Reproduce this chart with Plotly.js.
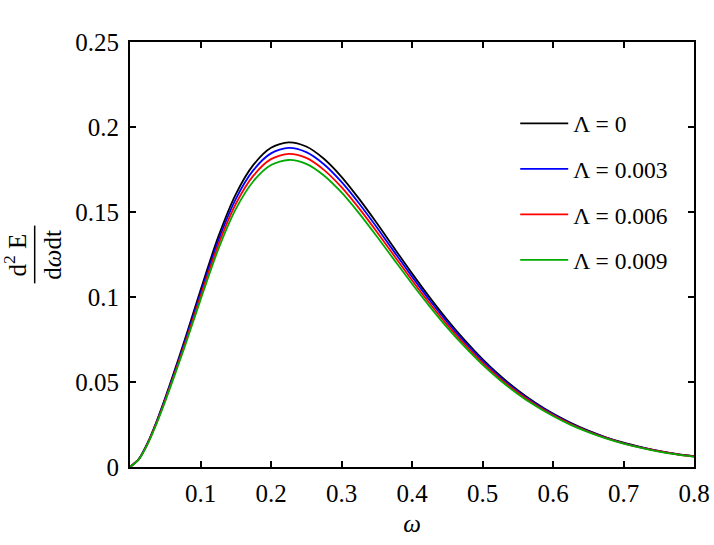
<!DOCTYPE html>
<html>
<head>
<meta charset="utf-8">
<script src="https://cdn.plot.ly/plotly-3.0.1.min.js"></script>
<style>
  body { margin: 0; background: #fff; }
  #plot { width: 714px; height: 545px; }
</style>
</head>
<body>
<div id="plot"></div>
<script>
// omega grid and spectra
const omega = [0, 0.0125, 0.025, 0.0375, 0.05, 0.0625, 0.075, 0.0875, 0.1, 0.125, 0.15, 0.175,
  0.2, 0.225, 0.25, 0.275, 0.3, 0.325, 0.35, 0.375, 0.4, 0.425, 0.45, 0.475, 0.5, 0.525, 0.55,
  0.575, 0.6, 0.625, 0.65, 0.675, 0.7, 0.725, 0.75, 0.775, 0.8];

const lambda0 = [0, 0.0047, 0.0142, 0.0266, 0.0407, 0.0558, 0.0714, 0.0876, 0.1040, 0.1352,
  0.1604, 0.1777, 0.1878, 0.1910, 0.1885, 0.1813, 0.1707, 0.1577, 0.1435, 0.1286, 0.1139,
  0.0998, 0.0866, 0.0745, 0.0635, 0.0537, 0.0452, 0.0378, 0.0314, 0.0260, 0.0214, 0.0175,
  0.0143, 0.0117, 0.0095, 0.0077, 0.0064];

const lambda003 = [0, 0.0046, 0.0140, 0.0262, 0.0401, 0.0549, 0.0703, 0.0861, 0.1022, 0.1329,
  0.1576, 0.1746, 0.1845, 0.1877, 0.1852, 0.1781, 0.1677, 0.1550, 0.1410, 0.1264, 0.1120,
  0.0981, 0.0852, 0.0733, 0.0625, 0.0529, 0.0445, 0.0372, 0.0310, 0.0256, 0.0211, 0.0173,
  0.0141, 0.0115, 0.0094, 0.0076, 0.0063];

const lambda006 = [0, 0.0046, 0.0138, 0.0258, 0.0394, 0.0540, 0.0690, 0.0845, 0.1003, 0.1304,
  0.1547, 0.1714, 0.1811, 0.1842, 0.1818, 0.1748, 0.1646, 0.1521, 0.1384, 0.1241, 0.1099,
  0.0963, 0.0836, 0.0720, 0.0614, 0.0520, 0.0438, 0.0366, 0.0305, 0.0252, 0.0208, 0.0171,
  0.0139, 0.0114, 0.0093, 0.0075, 0.0062];

const lambda009 = [0, 0.0045, 0.0135, 0.0253, 0.0387, 0.0530, 0.0677, 0.0829, 0.0983, 0.1278,
  0.1517, 0.1681, 0.1776, 0.1806, 0.1783, 0.1715, 0.1615, 0.1492, 0.1357, 0.1217, 0.1078,
  0.0945, 0.0820, 0.0706, 0.0602, 0.0510, 0.0430, 0.0360, 0.0300, 0.0248, 0.0205, 0.0168,
  0.0137, 0.0112, 0.0091, 0.0074, 0.0060];

const seriesNames = ['Λ = 0', 'Λ = 0.003', 'Λ = 0.006', 'Λ = 0.009'];
const seriesColors = ['#000000', '#0000ff', '#ff0000', '#00aa00'];
const xTicks = [0.1, 0.2, 0.3, 0.4, 0.5, 0.6, 0.7, 0.8];
const yTicks = [0, 0.05, 0.1, 0.15, 0.2, 0.25];

const serif = 'Liberation Serif, Times New Roman, serif';

function drawChart() {
    const allY = [lambda0, lambda003, lambda006, lambda009];
    const traces = allY.map((ys, i) => ({
        x: omega,
        y: ys,
        mode: 'lines',
        name: seriesNames[i],
        legendgroup: 'g' + i,
        line: { color: seriesColors[i], width: 1.8, shape: 'spline', smoothing: 0.8 }
    }));

    const axisCommon = {
        showline: true,
        linecolor: '#000',
        linewidth: 2,
        mirror: 'ticks',
        ticks: 'inside',
        ticklen: 6,
        tickwidth: 2,
        tickcolor: '#000',
        showgrid: false,
        zeroline: false,
        tickfont: { family: serif, size: 25, color: '#000' }
    };

    const layout = {
        width: 714,
        height: 545,
        margin: { l: 130, r: 20, t: 42, b: 78 },
        paper_bgcolor: '#fff',
        plot_bgcolor: '#fff',
        showlegend: true,
        legend: {
            x: 0.683, y: 0.86, xanchor: 'left', yanchor: 'top',
            bgcolor: 'rgba(0,0,0,0)',
            tracegroupgap: 12,
            itemwidth: 48,
            font: { family: serif, size: 23.5, color: '#000' }
        },
        xaxis: Object.assign({}, axisCommon, {
            range: [0, 0.8],
            tickvals: xTicks,
            ticktext: xTicks.map(String),
            ticklabelstandoff: 3,
            title: { text: '<i>ω</i>', font: { family: serif, size: 25, color: '#000' }, standoff: 8 }
        }),
        yaxis: Object.assign({}, axisCommon, {
            range: [0, 0.25],
            tickvals: yTicks,
            ticktext: yTicks.map(String),
            ticklabelstandoff: 4
        }),
        annotations: [
            {
                xref: 'paper', yref: 'paper', x: -0.204, y: 0.5,
                xanchor: 'center', yanchor: 'middle', textangle: -90, showarrow: false,
                text: 'd<sup>2</sup> E',
                font: { family: serif, size: 25, color: '#000' }
            },
            {
                xref: 'paper', yref: 'paper', x: -0.138, y: 0.5,
                xanchor: 'center', yanchor: 'middle', textangle: -90, showarrow: false,
                text: 'd<i>ω</i>dt',
                font: { family: serif, size: 25, color: '#000' }
            }
        ],
        shapes: [
            {
                type: 'line', xref: 'paper', yref: 'paper',
                x0: -0.169, x1: -0.169, y0: 0.432, y1: 0.568,
                line: { color: '#000', width: 1.5 }
            }
        ]
    };

    Plotly.newPlot('plot', traces, layout, { staticPlot: true });
}

document.addEventListener('DOMContentLoaded', drawChart);
</script>
</body>
</html>
